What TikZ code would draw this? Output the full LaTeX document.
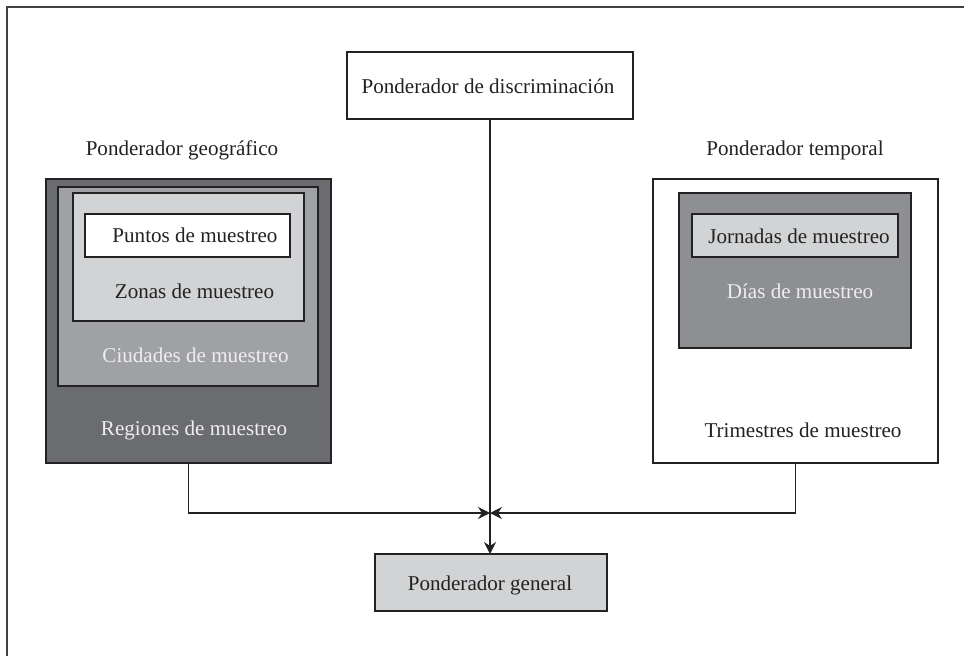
\documentclass[tikz,border=0pt]{standalone}
\usepackage{fontspec}
\setmainfont{Liberation Serif}
\usetikzlibrary{arrows.meta}
\definecolor{regfill}{HTML}{6B6C70}
\definecolor{ciufill}{HTML}{A0A1A4}
\definecolor{lightfill}{HTML}{D2D3D5}
\definecolor{diafill}{HTML}{8E8F92}
\definecolor{edge}{HTML}{222222}
\definecolor{lighttext}{HTML}{EEEEEE}
\definecolor{darktext}{HTML}{222222}
\tikzset{
  boxsz/.style args={#1/#2}{shape=rectangle, draw=edge, line width=1.1pt, inner sep=0pt, outer sep=0pt,
    minimum width=#1*0.75pt, minimum height=#2*0.75pt},
  lbl/.style={inner sep=0pt, font=\fontsize{15.8}{18}\selectfont, text=darktext},
  lbllight/.style={lbl, text=lighttext},
  conn/.style={draw=edge, line width=1.1pt},
  tip/.style={-{Stealth[length=9pt,width=9pt,inset=3pt]}}
}
\begin{document}
\begin{tikzpicture}[x=0.75pt,y=-0.75pt]
\useasboundingbox (0,0) rectangle (964,656);
% frame
\draw[draw=black!75, line width=1.6pt] (7,656) -- (7,7) -- (964,7);

% discrimination
\node[boxsz=286/67, fill=white] (disc) at (490,85.5) {};
\node[lbl] (disct) at (488,86) {Ponderador de discriminación};

% geographic
\node[lbl] (geot) at (182,150) {Ponderador geográfico};
\node[boxsz=285/284, fill=regfill] (reg) at (188.5,321) {};
\node[boxsz=260/199, fill=ciufill] (ciu) at (188,286.5) {};
\node[boxsz=231/128, fill=lightfill] (zon) at (188.5,257) {};
\node[boxsz=205/43, fill=white] (pun) at (187.5,235.5) {};
\node[lbl] (punt) at (195,235) {Puntos de muestreo};
\node[lbl] (zont) at (194.5,291) {Zonas de muestreo};
\node[lbllight] (ciut) at (195.5,355) {Ciudades de muestreo};
\node[lbllight] (regt) at (194,430) {Regiones de muestreo};

% temporal
\node[lbl] (temt) at (795,150) {Ponderador temporal};
\node[boxsz=285/284, fill=white] (tri) at (795.5,321) {};
\node[boxsz=232/155, fill=diafill] (dia) at (795,270.5) {};
\node[boxsz=206/43, fill=lightfill] (jor) at (795,235.5) {};
\node[lbl] (jort) at (799,236) {Jornadas de muestreo};
\node[lbllight] (diat) at (800,291) {Días de muestreo};
\node[lbl] (trit) at (803,430) {Trimestres de muestreo};

% general
\node[boxsz=232/57, fill=lightfill] (gen) at (491,582.5) {};
\node[lbl] (gent) at (490,585) {Ponderador general};

% connectors
\coordinate (j) at (490,513);
\draw[conn, tip] (reg.south) |- (j);
\draw[conn, tip] (tri.south) |- (j);
\draw[conn, tip] (disc.south) -- (disc.south |- gen.north);
\end{tikzpicture}
\end{document}
